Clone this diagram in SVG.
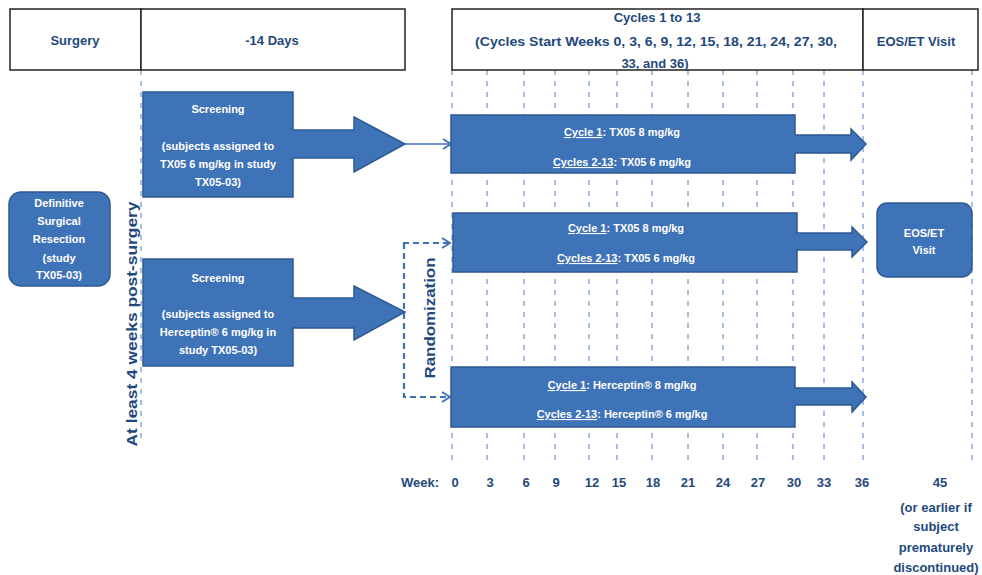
<svg xmlns="http://www.w3.org/2000/svg" width="982" height="575" viewBox="0 0 982 575">
<style>
.hbox{fill:#fff;stroke:#222;stroke-width:1.5}
.ht{font-family:"Liberation Sans",Arial,sans-serif;font-weight:bold;font-size:13px;fill:#1F497D;text-anchor:middle}
.shape{fill:#3F73B8;stroke:#2E5A92;stroke-width:1.5}
.wt{font-family:"Liberation Sans",Arial,sans-serif;font-weight:bold;font-size:11px;fill:#fff;text-anchor:middle}
.grid{stroke:#4F7FC7;stroke-width:1;stroke-dasharray:5 6;fill:none}
.rand{stroke:#3F73B8;stroke-width:2.2;stroke-dasharray:6 4;fill:none}
.thin{stroke:#3F73B8;stroke-width:1.6;fill:none}
.u{text-decoration:underline}
</style>
<defs>
<marker id="chev" viewBox="0 0 10 12" refX="9" refY="6" markerWidth="10" markerHeight="12" markerUnits="userSpaceOnUse" orient="auto">
<path d="M1,1 L9,6 L1,11" fill="none" stroke="#3F73B8" stroke-width="2" stroke-dasharray="none"/>
</marker>
</defs>
<rect width="982" height="575" fill="#fff"/>

<g id="grid">
<line class="grid" x1="141" y1="70" x2="141" y2="440"/>
<line class="grid" x1="452" y1="70" x2="452" y2="462"/>
<line class="grid" x1="487" y1="70" x2="487" y2="462"/>
<line class="grid" x1="524" y1="70" x2="524" y2="462"/>
<line class="grid" x1="555" y1="70" x2="555" y2="462"/>
<line class="grid" x1="589" y1="70" x2="589" y2="462"/>
<line class="grid" x1="617" y1="70" x2="617" y2="462"/>
<line class="grid" x1="652" y1="70" x2="652" y2="462"/>
<line class="grid" x1="688" y1="70" x2="688" y2="462"/>
<line class="grid" x1="723" y1="70" x2="723" y2="462"/>
<line class="grid" x1="757" y1="70" x2="757" y2="462"/>
<line class="grid" x1="793" y1="70" x2="793" y2="462"/>
<line class="grid" x1="824" y1="70" x2="824" y2="462"/>
<line class="grid" x1="863" y1="70" x2="863" y2="462"/>
<line class="grid" x1="972" y1="70" x2="972" y2="462"/>
</g>

<g id="header">
<rect class="hbox" x="10" y="9" width="131" height="61"/>
<text class="ht" x="75" y="45">Surgery</text>
<rect class="hbox" x="141" y="9" width="264" height="61"/>
<text class="ht" x="272" y="45">-14 Days</text>
<rect class="hbox" x="452" y="9" width="411" height="61"/>
<text class="ht" x="657" y="22">Cycles 1 to 13</text>
<text class="ht" x="656" y="46" textLength="362" lengthAdjust="spacingAndGlyphs">(Cycles Start Weeks 0, 3, 6, 9, 12, 15, 18, 21, 24, 27, 30,</text>
<text class="ht" x="655" y="68">33, and 36)</text>
<rect class="hbox" x="863" y="9" width="115" height="61"/>
<text class="ht" x="916" y="46">EOS/ET Visit</text>
</g>

<g id="connectors">
<line class="thin" x1="405" y1="144" x2="451" y2="144" marker-end="url(#chev)"/>
<path class="rand" d="M404,243 V397 H450" marker-end="url(#chev)"/>
<line class="rand" x1="403" y1="243" x2="450" y2="243" marker-end="url(#chev)"/>
</g>

<g id="surgery">
<rect class="shape" x="9" y="192" width="101" height="94" rx="12"/>
<text class="wt" x="59" y="207">Definitive</text>
<text class="wt" x="59" y="225">Surgical</text>
<text class="wt" x="59" y="243">Resection</text>
<text class="wt" x="59" y="262">(study</text>
<text class="wt" x="59" y="279">TX05-03)</text>
</g>

<g id="postsurgery">
<text class="ht" transform="translate(137,324) rotate(-90)" style="font-size:14.5px" textLength="245" lengthAdjust="spacingAndGlyphs">At least 4 weeks post-surgery</text>
</g>

<g id="screening1">
<path class="shape" d="M143,92 H293 V130 H354 V117 L405,144 L354,172 V158 H293 V197 H143 Z"/>
<text class="wt" x="218" y="113">Screening</text>
<text class="wt" x="218" y="150">(subjects assigned to</text>
<text class="wt" x="218" y="168">TX05 6 mg/kg in study</text>
<text class="wt" x="218" y="186">TX05-03)</text>
</g>

<g id="screening2">
<path class="shape" d="M143,259 H293 V298 H354 V286 L405,312 L354,340 V328 H293 V366 H143 Z"/>
<text class="wt" x="218" y="282">Screening</text>
<text class="wt" x="218" y="318">(subjects assigned to</text>
<text class="wt" x="218" y="336">Herceptin® 6 mg/kg in</text>
<text class="wt" x="218" y="354">study TX05-03)</text>
</g>

<g id="randomization">
<text class="ht" transform="translate(435,318) rotate(-90)" style="font-size:14px" textLength="121" lengthAdjust="spacingAndGlyphs">Randomization</text>
</g>

<g id="arm1">
<path class="shape" d="M451,115 H795 V135 H851 V129 L866,144 L851,160 V153 H795 V173 H451 Z"/>
<text class="wt" x="622" y="136"><tspan class="u">Cycle 1</tspan>: TX05 8 mg/kg</text>
<text class="wt" x="622" y="166"><tspan class="u">Cycles 2-13</tspan>: TX05 6 mg/kg</text>
</g>

<g id="arm2">
<path class="shape" d="M453,213 H797 V233 H852 V227 L867,242 L852,257 V250 H797 V272 H453 Z"/>
<text class="wt" x="626" y="232"><tspan class="u">Cycle 1</tspan>: TX05 8 mg/kg</text>
<text class="wt" x="626" y="262"><tspan class="u">Cycles 2-13</tspan>: TX05 6 mg/kg</text>
</g>

<g id="arm3">
<path class="shape" d="M451,367 H795 V388 H852 V382 L866,397 L852,412 V405 H795 V427 H451 Z"/>
<text class="wt" x="622" y="389"><tspan class="u">Cycle 1</tspan>: Herceptin® 8 mg/kg</text>
<text class="wt" x="622" y="418"><tspan class="u">Cycles 2-13</tspan>: Herceptin® 6 mg/kg</text>
</g>

<g id="eos">
<rect class="shape" x="877" y="203" width="95" height="74" rx="10"/>
<text class="wt" x="924" y="237">EOS/ET</text>
<text class="wt" x="924" y="254">Visit</text>
</g>

<g id="weeks">
<text class="ht" x="439" y="487" style="text-anchor:end">Week:</text>
<text class="ht" x="455" y="487">0</text>
<text class="ht" x="490" y="487">3</text>
<text class="ht" x="526" y="487">6</text>
<text class="ht" x="556" y="487">9</text>
<text class="ht" x="592" y="487">12</text>
<text class="ht" x="619" y="487">15</text>
<text class="ht" x="653" y="487">18</text>
<text class="ht" x="688" y="487">21</text>
<text class="ht" x="723" y="487">24</text>
<text class="ht" x="758" y="487">27</text>
<text class="ht" x="794" y="487">30</text>
<text class="ht" x="824" y="487">33</text>
<text class="ht" x="862" y="487">36</text>
<text class="ht" x="940" y="487">45</text>
<text class="ht" x="936" y="512">(or earlier if</text>
<text class="ht" x="936" y="531">subject</text>
<text class="ht" x="936" y="552">prematurely</text>
<text class="ht" x="936" y="572">discontinued)</text>
</g>
</svg>
